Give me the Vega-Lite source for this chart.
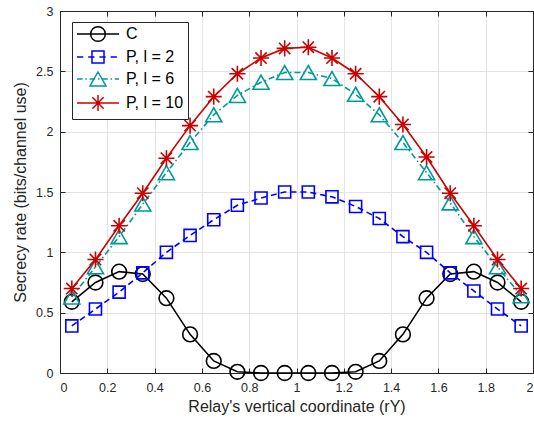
{
  "$schema": "https://vega.github.io/schema/vega-lite/v6.json",
  "autosize": "none",
  "width": 473,
  "height": 362,
  "padding": {"left": 60, "top": 11, "right": 1, "bottom": 59},
  "background": "white",
  "config": {
    "view": {"stroke": null},
    "font": "Liberation Sans",
    "axis": {
      "labelFont": "Liberation Sans",
      "titleFont": "Liberation Sans",
      "labelFontSize": 12.5,
      "titleFontSize": 16,
      "titleFontWeight": "normal",
      "labelColor": "#262626",
      "titleColor": "#262626",
      "domainColor": "#262626",
      "tickColor": "#262626",
      "gridColor": "#e3e3e3",
      "gridWidth": 1,
      "tickSize": -5,
      "tickWidth": 1,
      "format": "~g"
    },
    "legend": {
      "orient": "none",
      "legendX": 12,
      "legendY": 11,
      "padding": 4,
      "strokeColor": "#262626",
      "fillColor": "white",
      "symbolSize": 196,
      "symbolStrokeWidth": 1.5,
      "symbolOffset": 14,
      "labelOffset": 20,
      "labelFont": "Liberation Sans",
      "labelFontSize": 16,
      "labelColor": "#000000",
      "rowPadding": 2,
      "symbolFillColor": "transparent"
    }
  },
  "data": {
    "values": [
      {"x": 0.05, "series": "C", "y": 0.59}, {"x": 0.15, "series": "C", "y": 0.75}, {"x": 0.25, "series": "C", "y": 0.84}, {"x": 0.35, "series": "C", "y": 0.82}, {"x": 0.45, "series": "C", "y": 0.62}, {"x": 0.55, "series": "C", "y": 0.32}, {"x": 0.65, "series": "C", "y": 0.10}, {"x": 0.75, "series": "C", "y": 0.01}, {"x": 0.85, "series": "C", "y": 0.0}, {"x": 0.95, "series": "C", "y": 0.0},
      {"x": 1.05, "series": "C", "y": 0.0}, {"x": 1.15, "series": "C", "y": 0.0}, {"x": 1.25, "series": "C", "y": 0.01}, {"x": 1.35, "series": "C", "y": 0.10}, {"x": 1.45, "series": "C", "y": 0.32}, {"x": 1.55, "series": "C", "y": 0.62}, {"x": 1.65, "series": "C", "y": 0.82}, {"x": 1.75, "series": "C", "y": 0.84}, {"x": 1.85, "series": "C", "y": 0.75}, {"x": 1.95, "series": "C", "y": 0.59},
      {"x": 0.05, "series": "P, l = 2", "y": 0.39}, {"x": 0.15, "series": "P, l = 2", "y": 0.53}, {"x": 0.25, "series": "P, l = 2", "y": 0.67}, {"x": 0.35, "series": "P, l = 2", "y": 0.83}, {"x": 0.45, "series": "P, l = 2", "y": 1.0}, {"x": 0.55, "series": "P, l = 2", "y": 1.14}, {"x": 0.65, "series": "P, l = 2", "y": 1.27}, {"x": 0.75, "series": "P, l = 2", "y": 1.39}, {"x": 0.85, "series": "P, l = 2", "y": 1.45}, {"x": 0.95, "series": "P, l = 2", "y": 1.5},
      {"x": 1.05, "series": "P, l = 2", "y": 1.5}, {"x": 1.15, "series": "P, l = 2", "y": 1.46}, {"x": 1.25, "series": "P, l = 2", "y": 1.38}, {"x": 1.35, "series": "P, l = 2", "y": 1.28}, {"x": 1.45, "series": "P, l = 2", "y": 1.13}, {"x": 1.55, "series": "P, l = 2", "y": 1.0}, {"x": 1.65, "series": "P, l = 2", "y": 0.83}, {"x": 1.75, "series": "P, l = 2", "y": 0.68}, {"x": 1.85, "series": "P, l = 2", "y": 0.53}, {"x": 1.95, "series": "P, l = 2", "y": 0.39},
      {"x": 0.05, "series": "P, l = 6", "y": 0.63}, {"x": 0.15, "series": "P, l = 6", "y": 0.88}, {"x": 0.25, "series": "P, l = 6", "y": 1.13}, {"x": 0.35, "series": "P, l = 6", "y": 1.4}, {"x": 0.45, "series": "P, l = 6", "y": 1.66}, {"x": 0.55, "series": "P, l = 6", "y": 1.91}, {"x": 0.65, "series": "P, l = 6", "y": 2.14}, {"x": 0.75, "series": "P, l = 6", "y": 2.3}, {"x": 0.85, "series": "P, l = 6", "y": 2.41}, {"x": 0.95, "series": "P, l = 6", "y": 2.49},
      {"x": 1.05, "series": "P, l = 6", "y": 2.49}, {"x": 1.15, "series": "P, l = 6", "y": 2.44}, {"x": 1.25, "series": "P, l = 6", "y": 2.31}, {"x": 1.35, "series": "P, l = 6", "y": 2.14}, {"x": 1.45, "series": "P, l = 6", "y": 1.91}, {"x": 1.55, "series": "P, l = 6", "y": 1.66}, {"x": 1.65, "series": "P, l = 6", "y": 1.41}, {"x": 1.75, "series": "P, l = 6", "y": 1.13}, {"x": 1.85, "series": "P, l = 6", "y": 0.88}, {"x": 1.95, "series": "P, l = 6", "y": 0.64},
      {"x": 0.05, "series": "P, l = 10", "y": 0.70}, {"x": 0.15, "series": "P, l = 10", "y": 0.94}, {"x": 0.25, "series": "P, l = 10", "y": 1.22}, {"x": 0.35, "series": "P, l = 10", "y": 1.49}, {"x": 0.45, "series": "P, l = 10", "y": 1.78}, {"x": 0.55, "series": "P, l = 10", "y": 2.05}, {"x": 0.65, "series": "P, l = 10", "y": 2.29}, {"x": 0.75, "series": "P, l = 10", "y": 2.48}, {"x": 0.85, "series": "P, l = 10", "y": 2.61}, {"x": 0.95, "series": "P, l = 10", "y": 2.69},
      {"x": 1.05, "series": "P, l = 10", "y": 2.70}, {"x": 1.15, "series": "P, l = 10", "y": 2.61}, {"x": 1.25, "series": "P, l = 10", "y": 2.48}, {"x": 1.35, "series": "P, l = 10", "y": 2.29}, {"x": 1.45, "series": "P, l = 10", "y": 2.06}, {"x": 1.55, "series": "P, l = 10", "y": 1.79}, {"x": 1.65, "series": "P, l = 10", "y": 1.49}, {"x": 1.75, "series": "P, l = 10", "y": 1.22}, {"x": 1.85, "series": "P, l = 10", "y": 0.94}, {"x": 1.95, "series": "P, l = 10", "y": 0.70}
    ]
  },
  "encoding": {
    "x": {"field": "x", "type": "quantitative", "scale": {"domain": [0, 2], "nice": false, "zero": false}},
    "y": {"field": "y", "type": "quantitative", "scale": {"domain": [0, 3], "nice": false, "zero": false}}
  },
  "layer": [
    {
      "transform": [{"filter": "datum.series === 'C'"}],
      "mark": {"type": "line", "color": "#000000", "strokeWidth": 1.6},
      "encoding": {
        "x": {"field": "x", "type": "quantitative", "axis": {"orient": "bottom", "values": [0, 0.2, 0.4, 0.6, 0.8, 1, 1.2, 1.4, 1.6, 1.8, 2], "grid": true, "labelPadding": 13, "title": "Relay's vertical coordinate (rY)", "titlePadding": 5}},
        "y": {"field": "y", "type": "quantitative", "axis": {"orient": "left", "values": [0, 0.5, 1, 1.5, 2, 2.5, 3], "grid": true, "labelPadding": 12, "title": "Secrecy rate (bits/channel use)", "titlePadding": 7}}
      }
    },
    {
      "transform": [{"filter": "datum.series === 'C'"}],
      "mark": {"type": "point", "color": "#000000", "filled": false, "strokeWidth": 1.6, "size": 196, "opacity": 1, "shape": "M1.05,0A1.05,1.05,0,1,1,-1.05,0A1.05,1.05,0,1,1,1.05,0Z"},
      "encoding": {
        "x": {"field": "x", "type": "quantitative", "axis": {"orient": "top", "values": [0, 0.2, 0.4, 0.6, 0.8, 1, 1.2, 1.4, 1.6, 1.8, 2], "grid": false, "labels": false, "title": null}},
        "y": {"field": "y", "type": "quantitative", "axis": {"orient": "right", "values": [0, 0.5, 1, 1.5, 2, 2.5, 3], "grid": false, "labels": false, "title": null}}
      }
    },
    {
      "transform": [{"filter": "datum.series === 'P, l = 2'"}],
      "mark": {"type": "line", "color": "#0000ff", "strokeWidth": 1.6, "strokeDash": [6, 4]},
      "encoding": {"x": {"field": "x", "type": "quantitative", "axis": null}, "y": {"field": "y", "type": "quantitative", "axis": null}}
    },
    {
      "transform": [{"filter": "datum.series === 'P, l = 2'"}],
      "mark": {"type": "point", "color": "#0000ff", "filled": false, "strokeWidth": 1.6, "size": 196, "opacity": 1, "shape": "M-0.86,-0.86L0.86,-0.86L0.86,0.86L-0.86,0.86Z"},
      "encoding": {"x": {"field": "x", "type": "quantitative", "axis": null}, "y": {"field": "y", "type": "quantitative", "axis": null}}
    },
    {
      "transform": [{"filter": "datum.series === 'P, l = 6'"}],
      "mark": {"type": "line", "color": "#009999", "strokeWidth": 1.6, "strokeDash": [6, 3, 1.5, 3]},
      "encoding": {"x": {"field": "x", "type": "quantitative", "axis": null}, "y": {"field": "y", "type": "quantitative", "axis": null}}
    },
    {
      "transform": [{"filter": "datum.series === 'P, l = 6'"}],
      "mark": {"type": "point", "color": "#009999", "filled": false, "strokeWidth": 1.6, "size": 196, "opacity": 1, "shape": "M0,-1L1.15,1L-1.15,1Z"},
      "encoding": {"x": {"field": "x", "type": "quantitative", "axis": null}, "y": {"field": "y", "type": "quantitative", "axis": null}}
    },
    {
      "transform": [{"filter": "datum.series === 'P, l = 10'"}],
      "mark": {"type": "line", "color": "#cc0000", "strokeWidth": 1.6},
      "encoding": {"x": {"field": "x", "type": "quantitative", "axis": null}, "y": {"field": "y", "type": "quantitative", "axis": null}}
    },
    {
      "transform": [{"filter": "datum.series === 'P, l = 10'"}],
      "mark": {"type": "point", "color": "#cc0000", "filled": false, "strokeWidth": 1.6, "size": 196, "opacity": 1, "shape": "M0,-1.15L0,1.15M-1.15,0L1.15,0M-0.81,-0.81L0.81,0.81M-0.81,0.81L0.81,-0.81"},
      "encoding": {"x": {"field": "x", "type": "quantitative", "axis": null}, "y": {"field": "y", "type": "quantitative", "axis": null}}
    },
    {
      "transform": [{"filter": "datum.y < -1"}],
      "mark": {"type": "point", "filled": false, "strokeWidth": 1.5, "opacity": 1},
      "encoding": {
        "x": {"field": "x", "type": "quantitative", "axis": null},
        "y": {"field": "y", "type": "quantitative", "axis": null},
        "color": {"field": "series", "type": "nominal", "scale": {"domain": ["C", "P, l = 2", "P, l = 6", "P, l = 10"], "range": ["#000000", "#0000ff", "#009999", "#cc0000"]}, "legend": {"title": null}},
        "shape": {"field": "series", "type": "nominal", "scale": {"domain": ["C", "P, l = 2", "P, l = 6", "P, l = 10"], "range": [
          "M-3,0L3,0M1.05,0A1.05,1.05,0,1,1,-1.05,0A1.05,1.05,0,1,1,1.05,0Z",
          "M-3,0L-2.1,0M-1.4,0L-0.5,0M0.2,0L1.1,0M1.8,0L2.7,0M-0.86,-0.86L0.86,-0.86L0.86,0.86L-0.86,0.86Z",
          "M-3,0L-2.2,0M-1.8,0L-1.6,0M-1.2,0L-0.4,0M0,0L0.2,0M0.6,0L1.4,0M1.8,0L2,0M2.4,0L3,0M0,-1L1.15,1L-1.15,1Z",
          "M-3,0L3,0M0,-1.15L0,1.15M-1.15,0L1.15,0M-0.81,-0.81L0.81,0.81M-0.81,0.81L0.81,-0.81"
        ]}, "legend": {"title": null}}
      }
    }
  ],
  "resolve": {"axis": {"x": "independent", "y": "independent"}}
}
